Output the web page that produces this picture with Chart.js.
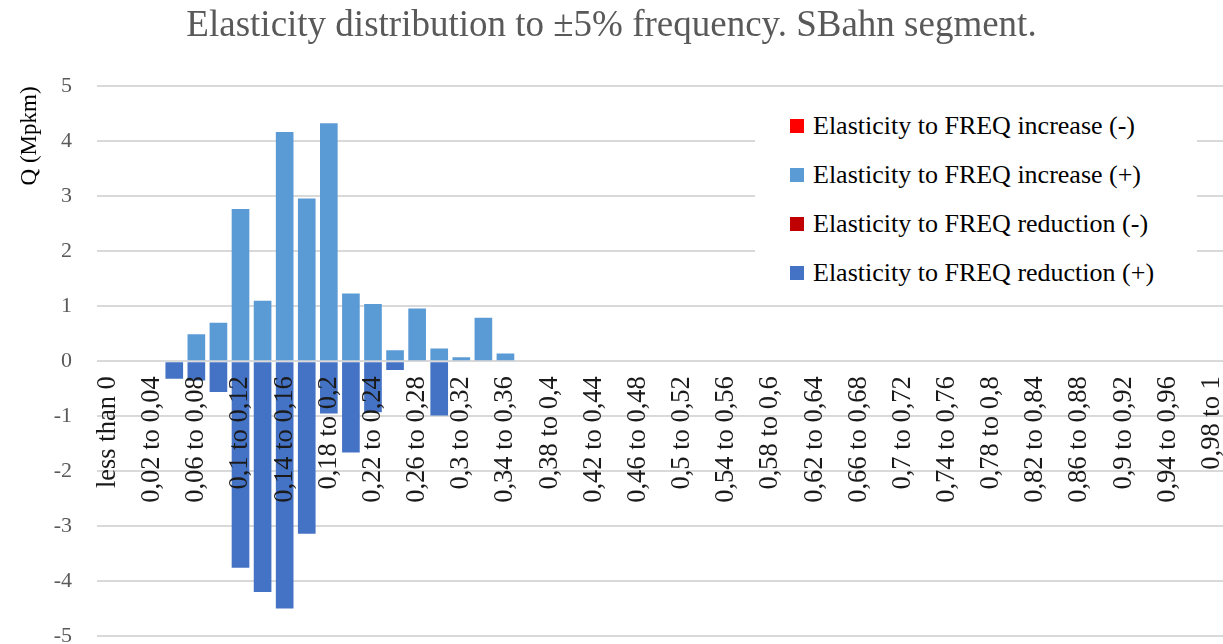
<!DOCTYPE html>
<html>
<head>
<meta charset="utf-8">
<script src="https://cdn.jsdelivr.net/npm/chart.js@4/dist/chart.umd.min.js"></script>
<style>
  body { margin: 0; background: #fff; }
  #wrap { position: relative; width: 1223px; height: 644px; }
  #legend {
    position: absolute; left: 755px; top: 92px; width: 442px; height: 210px;
    background: #fff; box-sizing: border-box; padding: 9px 0 0 35px;
    font-family: "Liberation Serif", serif; font-size: 26px; color: #000;
  }
  #legend .item { height: 49px; display: flex; align-items: center; white-space: nowrap; }
  #legend .box { width: 14px; height: 14px; margin-right: 9px; flex: none; }
</style>
</head>
<body>
<div id="wrap">
  <canvas id="myChart"></canvas>
  <div id="legend"></div>
</div>
<script>
// categories (elasticity bins)
var categories = ['less than 0', '0 to 0,02', '0,02 to 0,04', '0,04 to 0,06', '0,06 to 0,08', '0,08 to 0,1',
  '0,1 to 0,12', '0,12 to 0,14', '0,14 to 0,16', '0,16 to 0,18', '0,18 to 0,2', '0,2 to 0,22',
  '0,22 to 0,24', '0,24 to 0,26', '0,26 to 0,28', '0,28 to 0,3', '0,3 to 0,32', '0,32 to 0,34',
  '0,34 to 0,36', '0,36 to 0,38', '0,38 to 0,4', '0,4 to 0,42', '0,42 to 0,44', '0,44 to 0,46',
  '0,46 to 0,48', '0,48 to 0,5', '0,5 to 0,52', '0,52 to 0,54', '0,54 to 0,56', '0,56 to 0,58',
  '0,58 to 0,6', '0,6 to 0,62', '0,62 to 0,64', '0,64 to 0,66', '0,66 to 0,68', '0,68 to 0,7',
  '0,7 to 0,72', '0,72 to 0,74', '0,74 to 0,76', '0,76 to 0,78', '0,78 to 0,8', '0,8 to 0,82',
  '0,82 to 0,84', '0,84 to 0,86', '0,86 to 0,88', '0,88 to 0,9', '0,9 to 0,92', '0,92 to 0,94',
  '0,94 to 0,96', '0,96 to 0,98', '0,98 to 1'];

// Q (Mpkm) per bin
var increaseNeg = [0, 0, 0, 0, 0, 0, 0, 0, 0, 0, 0, 0, 0, 0, 0, 0, 0, 0, 0, 0, 0, 0, 0, 0, 0, 0,
  0, 0, 0, 0, 0, 0, 0, 0, 0, 0, 0, 0, 0, 0, 0, 0, 0, 0, 0, 0, 0, 0, 0, 0, 0];
var increasePos = [0, 0, 0, 0, 0.49, 0.70, 2.77, 1.10, 4.17, 2.96, 4.33, 1.23, 1.04, 0.20, 0.96, 0.23,
  0.07, 0.79, 0.14, 0, 0, 0, 0, 0, 0, 0, 0, 0, 0, 0, 0, 0, 0, 0, 0, 0, 0, 0, 0, 0, 0, 0, 0, 0, 0, 0,
  0, 0, 0, 0, 0];
var reductionNeg = [0, 0, 0, 0, 0, 0, 0, 0, 0, 0, 0, 0, 0, 0, 0, 0, 0, 0, 0, 0, 0, 0, 0, 0, 0, 0,
  0, 0, 0, 0, 0, 0, 0, 0, 0, 0, 0, 0, 0, 0, 0, 0, 0, 0, 0, 0, 0, 0, 0, 0, 0];
var reductionPos = [0, 0, 0, -0.32, -0.35, -0.56, -3.76, -4.20, -4.50, -3.14, -0.95, -1.66, -0.93, -0.16,
  0, -0.99, 0, 0, 0, 0, 0, 0, 0, 0, 0, 0, 0, 0, 0, 0, 0, 0, 0, 0, 0, 0, 0, 0, 0, 0, 0, 0, 0, 0, 0, 0,
  0, 0, 0, 0, 0];

var yTicks = [-5, -4, -3, -2, -1, 0, 1, 2, 3, 4, 5];

var serif = 'Liberation Serif';

// simple html legend built from the datasets
var htmlLegend = {
    id: 'htmlLegend',
    afterUpdate: function(chart) {
        var el = document.getElementById('legend');
        el.innerHTML = '';
        chart.data.datasets.forEach(function(ds) {
            var row = document.createElement('div');
            row.className = 'item';
            var box = document.createElement('span');
            box.className = 'box';
            box.style.background = ds.backgroundColor;
            row.appendChild(box);
            row.appendChild(document.createTextNode(ds.label));
            el.appendChild(row);
        });
    }
};

// the axes should not push the plot area in
function noPadding(scale) {
    scale.paddingLeft = 0;
    scale.paddingRight = 0;
    scale.paddingTop = 0;
    scale.paddingBottom = 0;
}

var ctx = document.getElementById('myChart').getContext('2d');
var chart = new Chart(ctx, {
    type: 'bar',
    data: {
        labels: categories,
        datasets: [{
            label: 'Elasticity to FREQ increase (-)',
            backgroundColor: '#FF0000',
            data: increaseNeg
        }, {
            label: 'Elasticity to FREQ increase (+)',
            backgroundColor: '#5B9BD5',
            data: increasePos
        }, {
            label: 'Elasticity to FREQ reduction (-)',
            backgroundColor: '#C00000',
            data: reductionNeg
        }, {
            label: 'Elasticity to FREQ reduction (+)',
            backgroundColor: '#4472C4',
            data: reductionPos
        }]
    },
    plugins: [htmlLegend],
    options: {
        responsive: true,
        maintainAspectRatio: false,
        animation: false,
        categoryPercentage: 1,
        barPercentage: 0.8,
        layout: { padding: { top: 0, right: 0, bottom: 8, left: 0 } },
        plugins: {
            legend: { display: false },
            tooltip: { enabled: false },
            title: {
                display: true,
                text: 'Elasticity distribution to ±5% frequency. SBahn segment.',
                color: '#595959',
                font: { family: serif, size: 37, weight: 'normal' },
                padding: { top: 4, bottom: 38 }
            }
        },
        scales: {
            x: {
                stacked: true,
                position: { y: 0 },
                afterFit: noPadding,
                grid: { display: false, drawTicks: false },
                border: { display: false },
                ticks: {
                    z: 1, // labels sit on top of the bars
                    autoSkip: false,
                    maxRotation: 90,
                    minRotation: 90,
                    padding: 15,
                    color: '#1a1a1a',
                    font: { family: serif, size: 26.5 },
                    callback: function(v, i) { return i % 2 === 0 ? categories[i] : ''; }
                }
            },
            y: {
                stacked: true,
                min: yTicks[0],
                max: yTicks[yTicks.length - 1],
                afterFit: function(scale) { scale.width = 97; noPadding(scale); },
                grid: { color: '#d9d9d9', lineWidth: 2, drawTicks: false },
                border: { display: false },
                ticks: {
                    stepSize: 1,
                    padding: 25,
                    color: '#595959',
                    font: { family: serif, size: 22 }
                },
                title: {
                    display: true,
                    text: 'Q (Mpkm)',
                    align: 'end',
                    color: '#000',
                    font: { family: serif, size: 23 },
                    padding: { top: 16, bottom: 0 }
                }
            }
        }
    }
});
</script>
</body>
</html>
